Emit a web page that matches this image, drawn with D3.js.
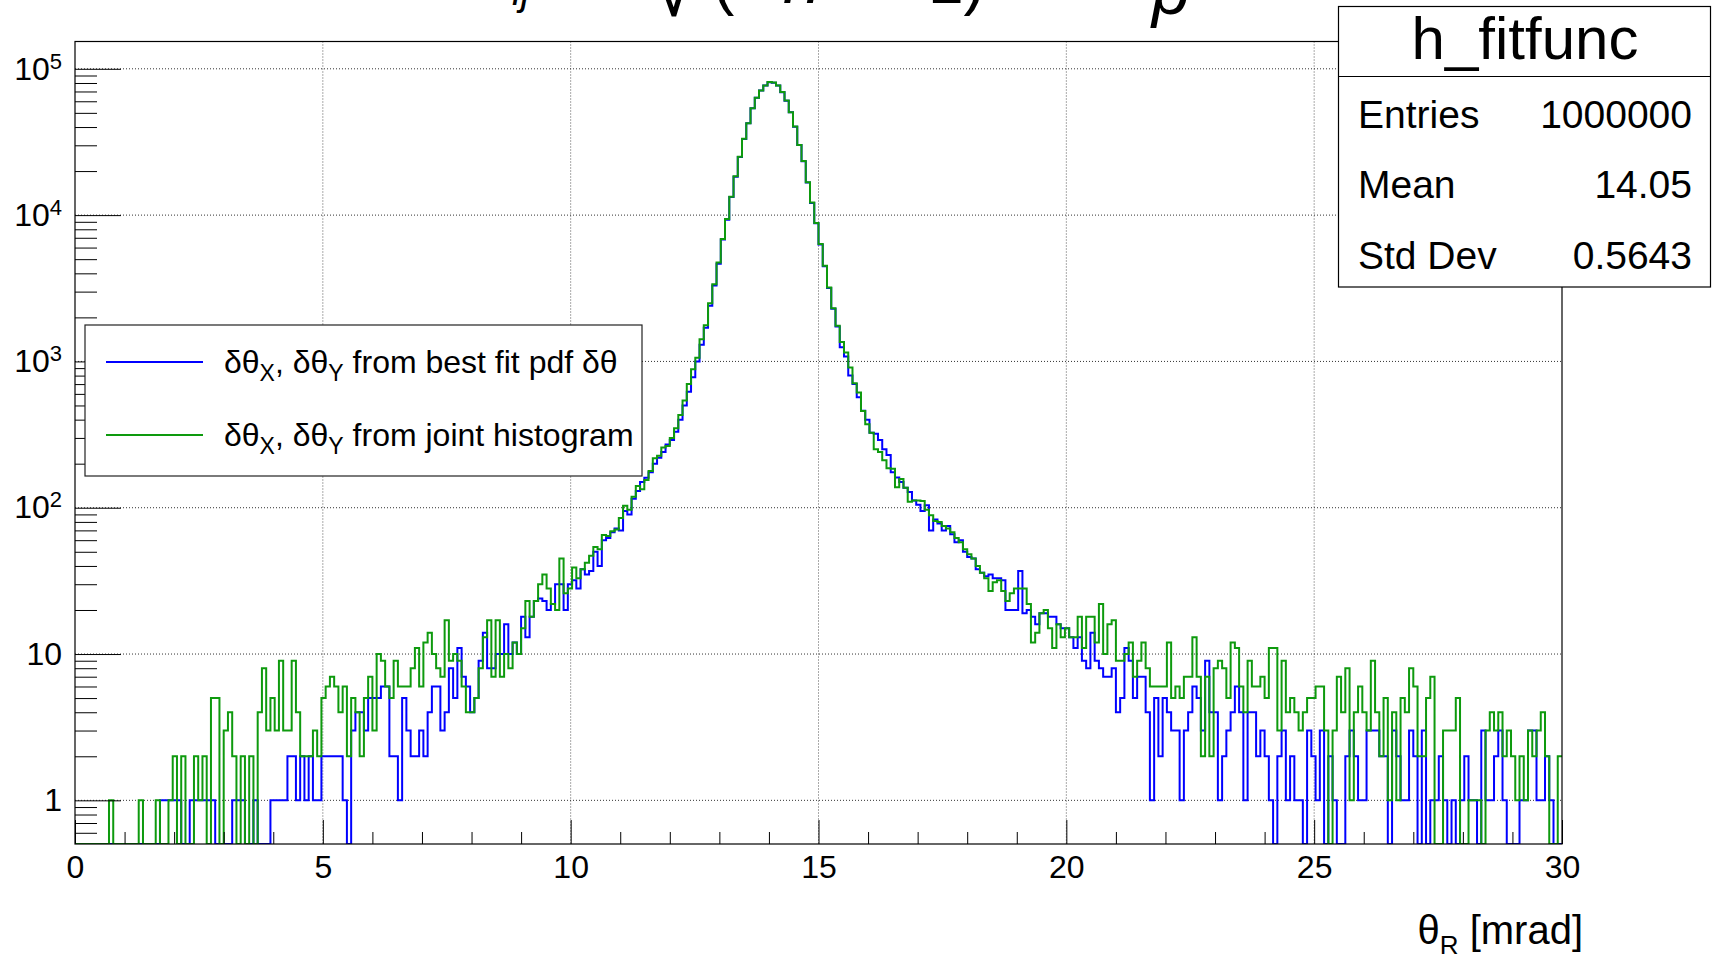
<!DOCTYPE html>
<html>
<head>
<meta charset="utf-8">
<script src="https://cdn.jsdelivr.net/npm/d3@7"></script>
<style>
  body { margin: 0; background: #fff; }
  text { font-family: "Liberation Sans", Arial, sans-serif; }
</style>
</head>
<body>
<div id="chart"></div>
<script>
// histogram binning (350 bins from 0 to 30 mrad)
var xMin = 0, xMax = 30, nBins = 350;

// counts per bin: dtheta_X, dtheta_Y from best fit pdf
var bestFitCounts = [
  0,0,0,0,0,0,0,0,0,0,
  0,0,0,0,0,0,0,0,0,0,
  1,1,1,1,1,0,0,1,1,1,
  1,1,1,0,0,0,0,1,1,1,
  0,0,1,0,0,0,1,1,1,1,
  2,2,1,2,1,2,1,1,2,2,
  2,2,2,1,0,3,4,4,3,5,
  5,5,6,6,2,2,1,5,3,2,
  2,3,2,4,6,6,3,4,8,5,
  11,7,6,4,5,9,14,8,8,10,
  10,16,10,12,10,18,13,18,23,24,
  23,20,22,30,30,20,30,32,28,38,
  35,37,50,40,60,62,68,72,70,95,
  90,115,130,150,160,175,200,220,240,270,
  290,330,400,500,620,780,1000,1300,1700,2400,
  3300,4650,6800,9300,13300,18300,25000,33100,42400,53700,
  63300,71000,76800,81000,80400,76800,69200,60600,50400,40200,
  30100,23300,16700,12100,8800,6300,4480,3180,2290,1730,
  1250,1080,800,700,570,460,400,326,320,290,
  251,229,175,161,150,137,128,112,105,95,
  104,70,83,78,70,75,66,58,60,50,
  46,45,38,36,34,35,33,33,32,20,
  20,20,37,19,20,18,16,19,19,18,
  18,16,15,15,13,11,13,9,8,14,
  9,8,7,7,8,4,5,11,9,5,
  7,7,4,1,5,2,5,4,3,3,
  1,3,4,6,5,3,9,4,4,1,
  2,3,4,6,4,1,4,4,2,3,
  2,1,0,2,3,1,2,1,1,0,
  3,2,1,3,0,2,1,0,0,2,
  3,2,1,1,3,3,3,2,2,0,
  3,2,1,1,3,2,0,3,0,1,
  1,2,1,0,1,0,1,2,1,1,
  0,3,1,1,2,3,1,0,0,0,
  1,1,3,3,1,1,2,1,0,0
];

// counts per bin: dtheta_X, dtheta_Y from joint histogram
var jointCounts = [
  0,0,0,0,0,0,0,0,1,0,
  0,0,0,0,0,1,0,0,0,1,
  0,0,1,2,0,2,0,0,2,1,
  2,0,5,5,0,3,4,2,0,2,
  0,2,0,4,8,3,5,3,9,3,
  3,9,4,2,2,2,3,2,5,6,
  7,6,4,6,2,5,4,2,5,7,
  3,10,9,6,5,9,6,6,6,8,
  11,6,12,14,10,8,7,17,9,10,
  9,6,4,4,5,8,13,17,7,17,
  7,10,8,12,10,15,23,18,23,30,
  35,28,22,20,45,26,28,39,33,38,
  42,47,54,52,65,64,69,71,85,103,
  97,119,141,134,155,178,218,227,258,264,
  300,350,430,540,700,885,1060,1420,1770,2500,
  3370,4750,6860,9400,13370,18400,25100,33200,42500,53800,
  63400,71100,76900,81100,80500,76900,69300,60700,50500,40300,
  30200,23400,16800,12200,8830,6340,4510,3200,2310,1750,
  1360,1150,908,710,612,459,372,326,251,240,
  211,186,185,138,157,137,110,112,112,111,
  97,89,81,80,75,72,68,62,58,52,
  48,45,40,36,33,27,31,32,27,23,
  26,28,28,28,22,12,14,19,20,15,
  11,16,13,15,13,13,18,11,18,18,
  12,22,10,16,17,9,9,10,12,7,
  9,12,8,6,6,6,6,12,5,6,
  5,7,7,13,7,2,7,2,8,9,
  8,5,12,11,6,4,9,6,6,7,
  5,11,11,3,9,4,5,4,3,4,
  5,5,6,6,3,0,3,7,4,8,
  1,4,6,4,3,9,4,2,5,1,
  4,1,5,4,8,6,2,2,5,7,
  0,0,3,3,3,5,0,0,1,1,
  1,0,3,4,3,4,2,3,2,1,
  2,1,3,2,3,4,2,0,0,2
];

var xMajorTicks = [0, 5, 10, 15, 20, 25, 30];
var yDecades = [1, 10, 100, 1000, 10000, 100000];
var yRange = [0.503, 153700];
var statsNames = ["Entries", "Mean", "Std Dev"];
var statsValues = ["1000000", "14.05", "0.5643"];

var W = 1712, H = 958;
var m = {top: 41.5, right: 150, bottom: 114, left: 75}
    , w = W - m.left - m.right
    , h = H - m.top - m.bottom;

var svg = d3.select("#chart").append("svg")
    .attr("width", W)
    .attr("height", H);

// title (only the bottom of the formula is inside the canvas, as in the original)
var title = svg.append("g")
    .style("font-family", "'Liberation Serif', 'DejaVu Serif', serif");
title.append("text").attr("x", 512).attr("y", 5).style("font-size", "40px")
    .style("font-style", "italic").text("ij");
title.append("text").attr("x", 650).attr("y", 16).style("font-size", "86px").text("\u221A");
title.append("text").attr("x", 713).attr("y", 3).style("font-size", "64px").text("(");
title.append("text").attr("x", 783).attr("y", 3).style("font-size", "68px")
    .style("font-style", "italic").text("n");
title.append("text").attr("x", 928).attr("y", 3).style("font-size", "64px").text("1)");
title.append("text").attr("x", 1152).attr("y", 14).style("font-size", "68px")
    .style("font-style", "italic").text("p");

var g = svg.append("g")
    .attr("transform", "translate(" + m.left + "," + m.top + ")");

//Scales
var x = d3.scaleLinear().domain([xMin, xMax]).range([0, w]);
var y = d3.scaleLog().domain(yRange).range([h, 0]);

//Grid
g.append("g").selectAll("line")
    .data(xMajorTicks.slice(1, -1))
    .enter().append("line")
    .attr("x1", function(d) { return x(d); })
    .attr("x2", function(d) { return x(d); })
    .attr("y1", 0).attr("y2", h)
    .attr("stroke", "#555").attr("stroke-dasharray", "1,2");

g.append("g").selectAll("line")
    .data(yDecades)
    .enter().append("line")
    .attr("y1", function(d) { return y(d); })
    .attr("y2", function(d) { return y(d); })
    .attr("x1", 0).attr("x2", w)
    .attr("stroke", "#333").attr("stroke-dasharray", "1,2");

//Histograms as step lines
var binWidth = (xMax - xMin) / nBins;
function stepPoints(counts) {
    var pts = counts.map(function(c, i) { return {x: xMin + i * binWidth, c: c}; });
    pts.push({x: xMax, c: counts[counts.length - 1]});
    return pts;
}
var step = d3.line()
    .x(function(d) { return x(d.x); })
    .y(function(d) { return y(Math.max(d.c, yRange[0])); })
    .curve(d3.curveStepAfter);

g.append("clipPath").attr("id", "frame-clip")
    .append("rect").attr("x", 0).attr("y", 0).attr("width", w).attr("height", h);

g.append("path")
    .datum(stepPoints(bestFitCounts))
    .attr("clip-path", "url(#frame-clip)")
    .attr("fill", "none")
    .attr("stroke", "#0000ff")
    .attr("stroke-width", 2)
    .attr("d", step);

g.append("path")
    .datum(stepPoints(jointCounts))
    .attr("clip-path", "url(#frame-clip)")
    .attr("fill", "none")
    .attr("stroke", "#0e9a0e")
    .attr("stroke-width", 2)
    .attr("d", step);

//Axes
var yMinor = [];
[0.1, 1, 10, 100, 1000, 10000].forEach(function(dec) {
    for (var k = 2; k <= 9; k++) {
        var v = k * dec;
        if (v > yRange[0] && v < yRange[1]) yMinor.push(v);
    }
});

var yAxis = d3.axisLeft(y)
    .tickValues(yDecades)
    .tickSizeInner(-46).tickSizeOuter(0).tickPadding(13)
    .tickFormat(function(d) { return d < 100 ? String(d) : "10"; });
var yAxisG = g.append("g").call(yAxis);
yAxisG.selectAll(".tick text")
    .style("font-size", "32px")
    .attr("fill", "#000")
    .each(function(d) {
        if (d >= 100) {
            d3.select(this).append("tspan")
                .attr("dy", "-11")
                .style("font-size", "22px")
                .text(Math.round(Math.log10(d)));
        }
    });

g.append("g").call(d3.axisLeft(y).tickValues(yMinor)
    .tickSizeInner(-22).tickSizeOuter(0).tickFormat(""));

var xAxis = d3.axisBottom(x)
    .tickValues(xMajorTicks)
    .tickSizeInner(-24).tickSizeOuter(0).tickPadding(11)
    .tickFormat(d3.format("d"));
var xAxisG = g.append("g").attr("transform", "translate(0," + h + ")").call(xAxis);
xAxisG.selectAll(".tick text").style("font-size", "32px").attr("fill", "#000");

g.append("g").attr("transform", "translate(0," + h + ")")
    .call(d3.axisBottom(x).tickValues(d3.range(1, 30).filter(function(d) { return d % 5; }))
        .tickSizeInner(-12).tickSizeOuter(0).tickFormat(""));

g.selectAll(".domain").remove();
g.selectAll(".tick line").attr("stroke", "#000");

//Frame
g.append("rect")
    .attr("x", 0).attr("y", 0).attr("width", w).attr("height", h)
    .attr("fill", "none").attr("stroke", "#000").attr("stroke-width", 1.2);

// x axis title
var xt = svg.append("text")
    .attr("x", 1583).attr("y", 944)
    .attr("text-anchor", "end")
    .style("font-size", "40px");
xt.append("tspan").text("\u03B8");
xt.append("tspan").attr("dy", 10).style("font-size", "26px").text("R");
xt.append("tspan").attr("dy", -10).text(" [mrad]");

//Legend
var legendItems = [
    {label: "best fit pdf \u03B4\u03B8", color: "#0000ff"},
    {label: "joint histogram", color: "#0e9a0e"}
];
var leg = svg.append("g");
leg.append("rect")
    .attr("x", 85).attr("y", 325).attr("width", 557).attr("height", 151)
    .attr("fill", "#fff").attr("stroke", "#222").attr("stroke-width", 1.2);
legendItems.forEach(function(it, i) {
    var ly = 362 + i * 73;
    leg.append("line")
        .attr("x1", 106).attr("x2", 203).attr("y1", ly).attr("y2", ly)
        .attr("stroke", it.color).attr("stroke-width", 2);
    var t = leg.append("text").attr("x", 224).attr("y", ly + 11).style("font-size", "32px");
    t.append("tspan").text("\u03B4\u03B8");
    t.append("tspan").attr("dy", 8).style("font-size", "23px").text("X");
    t.append("tspan").attr("dy", -8).text(", \u03B4\u03B8");
    t.append("tspan").attr("dy", 8).style("font-size", "23px").text("Y");
    t.append("tspan").attr("dy", -8).text(" from " + it.label);
});

//Stats box
var st = svg.append("g");
st.append("rect")
    .attr("x", 1338.5).attr("y", 6.5).attr("width", 372).attr("height", 280.5)
    .attr("fill", "#fff").attr("stroke", "#000").attr("stroke-width", 1.2);
st.append("line")
    .attr("x1", 1338.5).attr("x2", 1710.5).attr("y1", 76.5).attr("y2", 76.5)
    .attr("stroke", "#000").attr("stroke-width", 1.2);
st.append("text")
    .attr("x", 1525).attr("y", 59)
    .attr("text-anchor", "middle")
    .style("font-size", "60px")
    .text("h_fitfunc");
statsNames.forEach(function(name, i) {
    var by = 128 + i * 70.4;
    st.append("text").attr("x", 1358).attr("y", by).style("font-size", "39px").text(name);
    st.append("text").attr("x", 1692).attr("y", by).attr("text-anchor", "end")
        .style("font-size", "39px").text(statsValues[i]);
});
</script>
</body>
</html>
